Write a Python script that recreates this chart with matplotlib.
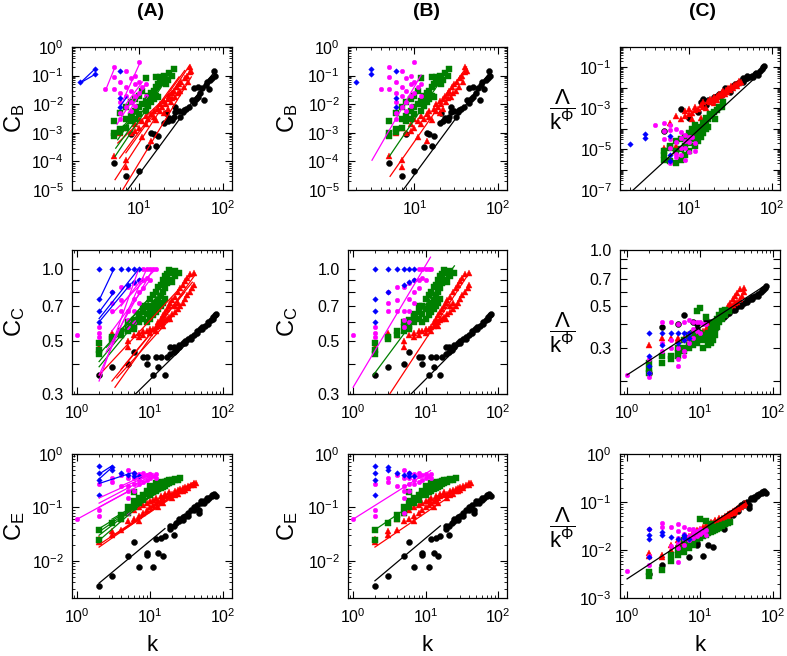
import numpy as np
import matplotlib
matplotlib.use("Agg")
import matplotlib.pyplot as plt
from matplotlib.ticker import LogLocator, FixedLocator, FuncFormatter, NullLocator

plt.rcParams['font.family'] = ['Liberation Sans', 'DejaVu Sans']
plt.rcParams['mathtext.fontset'] = 'custom'
plt.rcParams['mathtext.rm'] = 'Liberation Sans'
plt.rcParams['mathtext.it'] = 'Liberation Sans:italic'
plt.rcParams['mathtext.bf'] = 'Liberation Sans:bold'
plt.rcParams['mathtext.default'] = 'regular'

# ---------------- C_B : degree k, raw value, rescaled value ----------------
k_cb_black = [5, 7, 8, 10, 13, 16, 14, 15, 17, 20, 22, 23, 25, 26, 21, 27, 27, 30, 31, 33,
              34, 36, 39, 43, 45, 48, 50, 54, 57, 45, 50, 60, 62, 65, 68, 71, 75, 78, 80]
cb_black = [9e-5, 3.2e-5, 9e-4, 4.5e-5, 3.3e-4, 3.5e-4, 1e-3, 9e-4, 8e-4, 2.2e-3, 2.5e-3, 3.2e-3,
            2.8e-3, 3.7e-3, 5e-3, 5.5e-3, 8e-3, 6e-3, 3.7e-3, 5.5e-3, 6.3e-3, 7e-3, 8e-3, 1.4e-2,
            1.1e-2, 1.5e-2, 1.8e-2, 2.4e-2, 3.6e-2, 3.6e-2, 4e-2, 1.4e-2, 4.7e-2, 6e-2, 3.5e-2,
            7e-2, 8e-2, 0.14, 0.1]
cbs_black = [8e-5, 1e-5, 9e-4, 3.3e-4, 6.7e-4, 1.4e-3, 2.1e-3, 3e-3, 2.5e-3, 3.5e-3, 4e-3, 5e-3,
             4.5e-3, 6e-3, 3e-3, 8e-3, 1e-2, 9e-3, 6e-3, 1.1e-2, 1.3e-2, 1.5e-2, 1.8e-2, 2.2e-2,
             2e-2, 2.7e-2, 3e-2, 3.5e-2, 4e-2, 3e-2, 3.7e-2, 3.3e-2, 5e-2, 5.5e-2, 4.5e-2, 6.5e-2,
             8e-2, 0.11, 0.12]

k_cb_red = [5, 6, 7, 7, 7, 8, 9, 9, 10, 10, 11, 11, 12, 12, 13, 14, 14, 15, 15, 16, 17, 18, 18, 19,
            20, 20, 21, 22, 22, 23, 24, 25, 25, 26, 27, 28, 29, 30, 31, 32, 34, 35, 37, 38, 40, 40, 42]
cb_red = [1.5e-4, 1e-3, 1.1e-4, 6.5e-5, 1.5e-3, 1e-3, 1.2e-3, 2e-3, 1.5e-3, 3e-3, 7e-4, 2.5e-3,
          2e-3, 4e-3, 3e-3, 5e-4, 4.5e-3, 3.5e-3, 6e-3, 2.8e-3, 7e-3, 6e-3, 1e-2, 8e-3, 5e-3,
          1.3e-2, 1e-2, 1.5e-2, 7e-3, 2e-2, 1.2e-2, 2.5e-2, 1.6e-2, 3e-2, 1.8e-2, 4e-2, 2.5e-2,
          5e-2, 3e-2, 6e-2, 4e-2, 8e-2, 0.1, 6e-2, 0.2, 0.13, 0.15]
cbs_red = [1.1e-5, 1.8e-4, 1.5e-5, 8e-6, 4e-4, 3e-4, 4e-4, 7e-4, 5e-4, 9e-4, 3e-4, 6e-4, 8e-4,
           1.2e-3, 9e-4, 3.5e-4, 1.5e-3, 1.2e-3, 2e-3, 1e-3, 2.2e-3, 2e-3, 3e-3, 2.5e-3, 1.8e-3,
           3.5e-3, 3e-3, 4e-3, 2.5e-3, 5e-3, 3.5e-3, 6e-3, 4.5e-3, 7e-3, 5e-3, 8e-3, 6.5e-3,
           1e-2, 8e-3, 1.2e-2, 1e-2, 1.4e-2, 1.6e-2, 1.2e-2, 2.2e-2, 1.8e-2, 2e-2]

k_cb_green = [5, 5, 5, 6, 6, 6, 7, 7, 7, 8, 8, 8, 9, 9, 9, 10, 10, 10, 11, 11, 12, 12, 12, 13, 13,
              14, 14, 15, 15, 16, 16, 16, 17, 17, 18, 18, 19, 20, 21, 22, 23, 25, 26]
cb_green = [1e-3, 7.5e-4, 2.5e-3, 1.4e-3, 1.1e-3, 5e-3, 3e-3, 8e-3, 1.5e-3, 4e-3, 1.2e-2, 2.5e-3,
            6e-3, 1.5e-2, 3e-3, 8e-3, 2e-2, 4.5e-3, 1e-2, 3e-2, 1.3e-2, 6e-3, 8e-2, 2e-2, 9e-3,
            2.5e-2, 1.2e-2, 3e-2, 1.5e-2, 4e-2, 9e-2, 2e-2, 5e-2, 1.8e-2, 8e-2, 9e-2, 6e-2, 0.1,
            5e-2, 7e-2, 0.12, 0.1, 0.17]
cbs_green = [5.2e-6, 3e-6, 8e-6, 1.1e-5, 2.6e-6, 1.5e-5, 8e-6, 2.5e-5, 2e-6, 1e-5, 3e-5, 3e-6,
             1.5e-5, 4e-5, 5e-6, 2e-5, 6e-5, 8e-6, 3e-5, 1e-4, 5e-5, 1.5e-5, 1.5e-4, 8e-5, 2.5e-5,
             1.2e-4, 4e-5, 2e-4, 6e-5, 3.2e-4, 2.5e-4, 1e-4, 3e-4, 1.2e-4, 4.6e-4, 5e-4, 4e-4,
             6.7e-4, 3e-4, 8e-4, 1.2e-3, 1.1e-3, 2e-3]

k_cb_mag = [4, 5, 5, 5, 6, 6, 6, 6, 6, 7, 7, 7, 7, 8, 8, 8, 8, 9, 9, 9, 9, 10, 10, 10, 11, 12, 12]
cb_mag = [0.035, 0.2, 0.09, 0.035, 0.06, 0.025, 0.012, 0.005, 0.003, 0.14, 0.04, 0.02, 0.008,
          0.08, 0.03, 0.012, 0.006, 0.1, 0.05, 0.02, 0.009, 0.3, 0.06, 0.025, 0.04, 0.05, 0.02]
cbs_mag = [1.5e-4, 1.8e-4, 8e-5, 3e-5, 1.6e-4, 9e-5, 3e-5, 1.2e-5, 2e-6, 1e-4, 2.3e-5, 6e-6, 4e-6,
           7e-5, 3.4e-5, 1.1e-5, 5e-6, 5e-5, 2.5e-5, 1.2e-5, 3e-6, 4e-5, 2.3e-5, 7.4e-6, 4e-5,
           2e-5, 8e-6]

k_cb_blue = [2, 3, 3, 6, 6, 6]
cb_blue = [0.06, 0.17, 0.115, 0.14, 0.016, 0.008]
cbs_blue = [1.7e-5, 5.3e-5, 3.6e-5, 4.4e-5, 5e-6, 2.6e-6]

# ---------------- C_C ----------------
k_cc_black = [2, 3, 5, 6, 8, 9, 9, 11, 12, 13, 14, 16, 17, 19, 19, 21, 21, 23, 25, 25,
              28, 30, 30, 33, 36, 36, 40, 44, 44, 48, 52, 52, 57, 62, 62, 68, 72, 72, 78, 80]
cc_black = [0.36, 0.39, 0.4, 0.45, 0.43, 0.43, 0.4, 0.36, 0.43, 0.39, 0.43, 0.36, 0.43, 0.47, 0.44,
            0.47, 0.45, 0.46, 0.48, 0.47, 0.49, 0.5, 0.49, 0.51, 0.52, 0.51, 0.53, 0.54, 0.55, 0.56,
            0.57, 0.56, 0.58, 0.6, 0.59, 0.61, 0.62, 0.63, 0.64, 0.65]
ccs_black = [0.22, 0.39, 0.4, 0.45, 0.41, 0.4, 0.38, 0.36, 0.42, 0.4, 0.41, 0.38, 0.42, 0.44, 0.43,
             0.45, 0.44, 0.45, 0.47, 0.46, 0.48, 0.49, 0.48, 0.5, 0.51, 0.5, 0.52, 0.53, 0.54, 0.55,
             0.56, 0.55, 0.57, 0.58, 0.57, 0.6, 0.61, 0.62, 0.63, 0.64]

k_cc_red = [2, 3, 4, 5, 5, 6, 7, 7, 8, 8, 9, 10, 10, 11, 12, 12, 13, 13, 14, 14, 15, 15, 15, 16, 16,
            17, 17, 18, 18, 19, 19, 20, 20, 22, 22, 22, 24, 24, 24, 26, 26, 28, 28, 30, 30, 32, 32,
            35, 35, 38, 40, 40]
cc_red = [0.47, 0.54, 0.53, 0.47, 0.5, 0.53, 0.54, 0.52, 0.55, 0.53, 0.55, 0.56, 0.54, 0.56, 0.57,
          0.55, 0.58, 0.6, 0.59, 0.62, 0.6, 0.64, 0.58, 0.61, 0.66, 0.62, 0.68, 0.63, 0.7, 0.62,
          0.72, 0.65, 0.74, 0.66, 0.76, 0.7, 0.68, 0.8, 0.72, 0.7, 0.83, 0.72, 0.86, 0.75, 0.89,
          0.78, 0.92, 0.8, 0.95, 0.83, 0.96, 0.86]
ccs_red = [0.31, 0.34, 0.34, 0.33, 0.34, 0.34, 0.34, 0.35, 0.35, 0.34, 0.35, 0.36, 0.35, 0.37, 0.38,
           0.37, 0.39, 0.38, 0.4, 0.39, 0.41, 0.4, 0.39, 0.42, 0.41, 0.42, 0.43, 0.43, 0.44, 0.44,
           0.46, 0.45, 0.47, 0.46, 0.48, 0.47, 0.48, 0.5, 0.49, 0.5, 0.52, 0.51, 0.55, 0.52, 0.57,
           0.53, 0.59, 0.55, 0.62, 0.57, 0.63, 0.6]

k_cc_green = [2, 2, 2, 3, 3, 4, 4, 5, 5, 5, 6, 6, 6, 7, 7, 7, 8, 8, 8, 9, 9, 9, 10, 10, 10, 11, 11,
              11, 12, 12, 12, 13, 13, 13, 14, 14, 14, 15, 15, 15, 16, 16, 16, 17, 17, 18, 18, 20,
              20, 22, 22, 25]
cc_green = [0.49, 0.46, 0.44, 0.52, 0.51, 0.55, 0.53, 0.57, 0.55, 0.6, 0.61, 0.58, 0.56, 0.63, 0.6,
            0.65, 0.66, 0.62, 0.7, 0.7, 0.65, 0.6, 0.75, 0.68, 0.62, 0.78, 0.7, 0.64, 0.8, 0.72,
            0.66, 0.84, 0.74, 0.68, 0.86, 0.77, 0.7, 0.9, 0.8, 0.72, 0.93, 0.83, 0.75, 0.95, 0.87,
            0.99, 0.9, 0.96, 0.88, 0.98, 0.93, 0.96]
ccs_green = [0.25, 0.23, 0.22, 0.25, 0.27, 0.27, 0.26, 0.28, 0.27, 0.3, 0.3, 0.29, 0.33, 0.3, 0.31,
             0.35, 0.31, 0.33, 0.36, 0.32, 0.34, 0.47, 0.33, 0.36, 0.49, 0.34, 0.35, 0.3, 0.35,
             0.33, 0.44, 0.36, 0.34, 0.31, 0.38, 0.35, 0.32, 0.4, 0.36, 0.33, 0.41, 0.38, 0.35,
             0.43, 0.39, 0.45, 0.41, 0.47, 0.43, 0.48, 0.45, 0.47]

k_cc_mag = [1, 2, 2, 2, 3, 3, 3, 4, 4, 4, 5, 5, 5, 5, 6, 6, 6, 6, 7, 7, 7, 8, 8, 8, 9, 9, 10, 10, 11, 12]
cc_mag = [0.53, 0.57, 0.54, 0.52, 0.8, 0.72, 0.67, 0.84, 0.74, 0.67, 0.84, 0.67, 0.61, 0.57, 0.87,
          0.75, 0.67, 0.6, 0.9, 0.8, 0.72, 1.0, 0.9, 0.83, 1.0, 0.92, 1.0, 0.9, 1.0, 1.0]
ccs_mag = [0.215, 0.26, 0.22, 0.21, 0.41, 0.32, 0.29, 0.41, 0.33, 0.3, 0.4, 0.3, 0.26, 0.24, 0.41,
           0.33, 0.29, 0.27, 0.42, 0.36, 0.32, 0.41, 0.38, 0.34, 0.41, 0.37, 0.41, 0.36, 0.4, 0.4]

k_cc_blue = [2, 2, 2, 2, 3, 3, 4, 5, 5, 6, 6, 7, 7]
cc_blue = [1.0, 0.75, 0.67, 0.6, 1.0, 0.8, 1.0, 1.0, 0.86, 1.0, 0.88, 1.0, 0.9]
ccs_blue = [0.36, 0.27, 0.24, 0.22, 0.36, 0.31, 0.36, 0.36, 0.32, 0.36, 0.33, 0.36, 0.34]

# ---------------- C_E ----------------
k_ce_black = [2, 3, 5, 6, 7, 9, 9, 11, 12, 13, 14, 15, 16, 19, 19, 21, 21, 23, 25, 25, 28, 28, 30,
              33, 33, 36, 40, 40, 44, 47, 47, 50, 50, 55, 55, 60, 60, 65, 70, 70, 75, 75, 80]
ce_black = [0.0033, 0.0051, 0.0124, 0.022, 0.0075, 0.014, 0.013, 0.0075, 0.025, 0.014, 0.027,
            0.012, 0.029, 0.039, 0.045, 0.03, 0.045, 0.05, 0.06, 0.055, 0.065, 0.058, 0.07, 0.08,
            0.07, 0.09, 0.1, 0.09, 0.11, 0.09, 0.08, 0.12, 0.13, 0.13, 0.12, 0.14, 0.15, 0.15,
            0.17, 0.16, 0.18, 0.17, 0.16]
ces_black = [0.0032, 0.0048, 0.012, 0.018, 0.0072, 0.014, 0.013, 0.0074, 0.022, 0.0126, 0.025,
             0.0117, 0.027, 0.036, 0.04, 0.028, 0.042, 0.046, 0.055, 0.05, 0.06, 0.053, 0.065,
             0.075, 0.065, 0.085, 0.095, 0.085, 0.1, 0.085, 0.075, 0.115, 0.12, 0.125, 0.115,
             0.135, 0.14, 0.145, 0.16, 0.155, 0.17, 0.165, 0.155]

k_ce_red = [2, 2, 3, 3, 4, 4, 5, 5, 6, 6, 7, 7, 7, 8, 8, 9, 9, 10, 10, 11, 11, 12, 12, 13, 13, 14,
            14, 15, 15, 16, 16, 18, 18, 20, 20, 22, 22, 24, 24, 26, 26, 28, 28, 30, 30, 33, 33, 36,
            40, 40, 42]
ce_red = [0.025, 0.022, 0.036, 0.03, 0.038, 0.06, 0.055, 0.08, 0.06, 0.09, 0.07, 0.1, 0.055, 0.08,
          0.11, 0.09, 0.12, 0.1, 0.13, 0.11, 0.14, 0.12, 0.15, 0.13, 0.1, 0.14, 0.16, 0.15, 0.12,
          0.16, 0.18, 0.17, 0.19, 0.18, 0.15, 0.2, 0.17, 0.21, 0.18, 0.22, 0.2, 0.23, 0.2, 0.24,
          0.21, 0.25, 0.23, 0.26, 0.28, 0.26, 0.29]
ces_red = [0.0085, 0.0075, 0.0078, 0.007, 0.01, 0.013, 0.013, 0.016, 0.015, 0.018, 0.017, 0.02,
           0.014, 0.02, 0.024, 0.022, 0.026, 0.025, 0.028, 0.027, 0.03, 0.03, 0.033, 0.032, 0.028,
           0.035, 0.038, 0.037, 0.033, 0.04, 0.043, 0.043, 0.047, 0.047, 0.042, 0.052, 0.047,
           0.056, 0.05, 0.06, 0.055, 0.064, 0.058, 0.068, 0.062, 0.075, 0.07, 0.08, 0.09, 0.085,
           0.095]

k_ce_green = [2, 2, 3, 4, 4, 5, 5, 6, 6, 6, 7, 7, 8, 8, 9, 9, 10, 10, 10, 11, 11, 12, 12, 12, 13,
              13, 14, 14, 14, 15, 15, 16, 16, 17, 17, 18, 18, 20, 20, 22, 22, 24, 26]
ce_green = [0.037, 0.024, 0.05, 0.073, 0.06, 0.1, 0.08, 0.13, 0.19, 0.1, 0.15, 0.12, 0.17, 0.14,
            0.18, 0.2, 0.2, 0.17, 0.25, 0.22, 0.19, 0.24, 0.2, 0.28, 0.25, 0.22, 0.27, 0.23, 0.3,
            0.28, 0.24, 0.3, 0.25, 0.31, 0.27, 0.32, 0.28, 0.3, 0.33, 0.32, 0.34, 0.33, 0.35]
ces_green = [0.0035, 0.0029, 0.0039, 0.008, 0.006, 0.01, 0.008, 0.011, 0.016, 0.009, 0.013, 0.011,
             0.016, 0.013, 0.017, 0.02, 0.02, 0.018, 0.045, 0.022, 0.02, 0.024, 0.021, 0.04,
             0.025, 0.023, 0.026, 0.024, 0.035, 0.027, 0.025, 0.029, 0.026, 0.03, 0.028, 0.031,
             0.029, 0.032, 0.033, 0.034, 0.035, 0.036, 0.038]

k_ce_mag = [1, 2, 2, 2, 3, 3, 4, 4, 5, 5, 5, 5, 5, 5, 6, 6, 6, 6, 7, 7, 7, 8, 8, 8, 9, 9, 10, 10,
            11, 12, 12]
ce_mag = [0.06, 0.27, 0.09, 0.07, 0.35, 0.3, 0.4, 0.25, 0.5, 0.35, 0.25, 0.2, 0.15, 0.08, 0.45,
          0.35, 0.27, 0.2, 0.42, 0.33, 0.27, 0.45, 0.38, 0.3, 0.4, 0.32, 0.43, 0.35, 0.38, 0.42, 0.35]
ces_mag = [0.0037, 0.028, 0.0075, 0.0048, 0.037, 0.03, 0.03, 0.012, 0.035, 0.025, 0.018, 0.014,
           0.011, 0.0055, 0.03, 0.022, 0.017, 0.013, 0.027, 0.02, 0.016, 0.028, 0.023, 0.018,
           0.025, 0.02, 0.027, 0.022, 0.024, 0.026, 0.021]

k_ce_blue = [2, 2, 2, 2, 3, 3, 4, 5, 6, 6, 7]
ce_blue = [0.6, 0.45, 0.33, 0.17, 0.57, 0.5, 0.45, 0.4, 0.44, 0.38, 0.38]
ces_blue = [0.027, 0.021, 0.017, 0.0072, 0.024, 0.021, 0.019, 0.017, 0.021, 0.018, 0.017]

# ---------------- fitted lines: (colour, k_start, k_end, y_start, y_end) ----------------
fitA_cb = [('black', 7.3, 78, 1e-5, 0.13),
           ('red', 5.2, 40, 2.3e-5, 0.23), ('red', 6.4, 42, 1e-5, 0.09), ('red', 5.9, 30, 1.3e-4, 0.09),
           ('red', 5.6, 28, 4.4e-4, 0.04), ('red', 7, 35, 2e-4, 0.15),
           ('green', 5.3, 26, 2.9e-4, 0.18), ('green', 5.2, 21, 1.5e-4, 0.07),
           ('green', 5.9, 16, 9.8e-4, 0.036), ('green', 6.5, 19.5, 1.7e-3, 0.054),
           ('green', 5.6, 12.3, 5.7e-4, 0.018),
           ('mag', 4.1, 5.2, 0.036, 0.2), ('mag', 6.5, 10.4, 0.014, 0.3), ('mag', 7, 11, 0.01, 0.06),
           ('mag', 5.5, 9, 2e-3, 0.02), ('mag', 7.5, 12, 0.005, 0.05),
           ('blue', 2, 3, 0.055, 0.17), ('blue', 2, 3, 0.055, 0.11), ('blue', 5.8, 7.2, 0.0075, 0.018)]
fitA_cc = [('black', 6.3, 75, 0.3, 0.63),
           ('red', 2, 35, 0.36, 0.92), ('red', 3.3, 42, 0.32, 0.95), ('red', 3, 30, 0.34, 0.8),
           ('red', 4, 38, 0.38, 0.88), ('red', 3.5, 25, 0.35, 0.68),
           ('green', 2, 19, 0.44, 0.95), ('green', 2, 17, 0.41, 0.9), ('green', 2, 15, 0.39, 0.82),
           ('green', 2.5, 12, 0.47, 0.75), ('green', 3, 22, 0.5, 1.0),
           ('mag', 2, 7, 0.34, 1.0), ('mag', 2, 9, 0.36, 1.0), ('mag', 2.5, 11, 0.45, 1.0),
           ('mag', 3, 10, 0.55, 0.9), ('mag', 3, 12, 0.65, 1.0), ('mag', 4, 8, 0.7, 0.92),
           ('blue', 2, 3.2, 0.74, 1.0), ('blue', 2, 3.2, 0.66, 0.8), ('blue', 2, 5.5, 0.6, 0.87),
           ('blue', 2, 7, 0.62, 1.0)]
fitA_ce = [('black', 2, 16, 0.0038, 0.04),
           ('red', 2, 25, 0.018, 0.2), ('red', 2, 35, 0.02, 0.27), ('red', 3, 40, 0.028, 0.3),
           ('red', 4, 30, 0.035, 0.22),
           ('green', 2, 12, 0.024, 0.2), ('green', 2, 15, 0.03, 0.25), ('green', 2, 20, 0.035, 0.3),
           ('green', 2, 25, 0.04, 0.33), ('green', 3, 20, 0.06, 0.28),
           ('mag', 1, 5, 0.06, 0.2), ('mag', 2, 10, 0.1, 0.33), ('mag', 2, 10, 0.12, 0.38),
           ('mag', 2, 11, 0.15, 0.43), ('mag', 4, 10, 0.25, 0.45),
           ('blue', 2, 3, 0.34, 0.56), ('blue', 2, 3, 0.42, 0.6), ('blue', 2, 5.5, 0.28, 0.44)]

fitB_cb = [('mag', 3.1, 12, 1.1e-4, 0.105), ('green', 5, 26, 1.5e-4, 0.18),
           ('red', 5.1, 42, 3e-5, 0.2), ('black', 7.3, 78, 1e-5, 0.12)]
fitB_cc = [('mag', 1, 11.7, 0.32, 1.12), ('green', 1.9, 25, 0.36, 1.03),
           ('red', 3.2, 38, 0.3, 0.94), ('black', 6.3, 72, 0.3, 0.63)]
fitB_ce = [('mag', 1, 11.7, 0.06, 0.49), ('green', 2, 25, 0.038, 0.39),
           ('red', 2, 38, 0.018, 0.27), ('black', 2, 16, 0.0042, 0.045)]

fitC_cb = ('black', 2.16, 60, 1e-7, 0.026)
fitC_cc = ('black', 1, 80, 0.215, 0.65)
fitC_ce = ('black', 1, 41, 0.0025, 0.1)

# ---------------- styling ----------------
colours = {'black': '#000000', 'red': '#ff0000', 'green': '#008000', 'mag': '#ff00ff', 'blue': '#0000ff'}
marks = {'black': ('o', 4.3), 'red': ('^', 4.8), 'green': ('s', 3.8), 'mag': ('o', 3.3), 'blue': ('D', 2.8)}
order = ['black', 'red', 'green', 'mag', 'blue']

pts_cb = {'black': (k_cb_black, cb_black, cbs_black), 'red': (k_cb_red, cb_red, cbs_red),
          'green': (k_cb_green, cb_green, cbs_green), 'mag': (k_cb_mag, cb_mag, cbs_mag),
          'blue': (k_cb_blue, cb_blue, cbs_blue)}
pts_cc = {'black': (k_cc_black, cc_black, ccs_black), 'red': (k_cc_red, cc_red, ccs_red),
          'green': (k_cc_green, cc_green, ccs_green), 'mag': (k_cc_mag, cc_mag, ccs_mag),
          'blue': (k_cc_blue, cc_blue, ccs_blue)}
pts_ce = {'black': (k_ce_black, ce_black, ces_black), 'red': (k_ce_red, ce_red, ces_red),
          'green': (k_ce_green, ce_green, ces_green), 'mag': (k_ce_mag, ce_mag, ces_mag),
          'blue': (k_ce_blue, ce_blue, ces_blue)}

rows = [
    dict(pts=pts_cb, fa=fitA_cb, fb=fitB_cb, fc=fitC_cb, lab=r'$C_{B}$',
         xl=(1.6, 128), xlc=(1.5, 125), yl=(1e-5, 1), ylc=(1e-7, 1), kind='log', kindc='odd', fy=0.56),
    dict(pts=pts_cc, fa=fitA_cc, fb=fitB_cc, fc=fitC_cc, lab=r'$C_{C}$',
         xl=(0.85, 133), xlc=(0.8, 125), yl=(0.3, 1.2), ylc=(0.17, 1.0), kind='lin', kindc='linc', fy=0.43),
    dict(pts=pts_ce, fa=fitA_ce, fb=fitB_ce, fc=fitC_ce, lab=r'$C_{E}$',
         xl=(0.85, 133), xlc=(0.8, 125), yl=(0.002, 1), ylc=(1e-3, 1), kind='log', kindc='log', fy=0.49),
]


def dec_label(v, pos):
    return r'$\mathdefault{10^{%d}}$' % int(round(np.log10(v)))


def odd_label(v, pos):
    e = int(round(np.log10(v)))
    return r'$\mathdefault{10^{%d}}$' % e if e % 2 else ''


def lin_label(v, pos):
    return '%.1f' % v if round(v, 2) in (0.3, 0.5, 0.7, 1.0) else ''


def setup(ax, xl, yl, kind):
    ax.set_xscale('log')
    ax.set_yscale('log')
    ax.set_xlim(xl)
    ax.set_ylim(yl)
    ax.xaxis.set_major_locator(LogLocator(base=10, numticks=30))
    ax.xaxis.set_minor_locator(LogLocator(base=10, subs=np.arange(2, 10) * 1.0, numticks=30))
    ax.xaxis.set_major_formatter(FuncFormatter(dec_label))
    if kind in ('log', 'odd'):
        ax.yaxis.set_major_locator(LogLocator(base=10, numticks=30))
        ax.yaxis.set_minor_locator(LogLocator(base=10, subs=np.arange(2, 10) * 1.0, numticks=30))
        ax.yaxis.set_major_formatter(FuncFormatter(odd_label if kind == 'odd' else dec_label))
    else:
        vals = [0.3, 0.4, 0.5, 0.6, 0.7, 0.8, 0.9, 1.0]
        if kind == 'linc':
            vals = [0.2] + vals
        ax.yaxis.set_major_locator(FixedLocator(vals))
        ax.yaxis.set_minor_locator(NullLocator())
        ax.yaxis.set_major_formatter(FuncFormatter(lin_label))
    ax.yaxis.set_minor_formatter(FuncFormatter(lambda v, p: ''))
    ax.xaxis.set_minor_formatter(FuncFormatter(lambda v, p: ''))
    ax.tick_params(which='both', direction='in', top=True, right=True, labelsize=11.5)
    ax.tick_params(which='major', length=5, width=0.8)
    ax.tick_params(which='minor', length=2.5, width=0.6)
    ax.tick_params(axis='x', pad=7)
    ax.tick_params(axis='y', pad=6)
    for s in ax.spines.values():
        s.set_linewidth(0.9)


def draw_pts(ax, pts, scaled=False):
    for name in order:
        k, raw, sc = pts[name]
        m, ms = marks[name]
        ax.plot(k, sc if scaled else raw, ls='none', marker=m, ms=ms, color=colours[name],
                mec=colours[name], mew=0.3, zorder=2)


def draw_fits(ax, fits):
    for name, k0, k1, y0, y1 in fits:
        ax.plot([k0, k1], [y0, y1], color=colours[name], lw=0.9, zorder=3)


fig = plt.figure(figsize=(7.87, 6.56), dpi=100)
W, H = 787.0, 656.0
lefts = [72, 348, 620]
widths = [160, 159, 160]
tops = [47, 250, 454]
heights = [143, 144, 144]

for r, row in enumerate(rows):
    for c in range(3):
        ax = fig.add_axes([lefts[c] / W, 1 - (tops[r] + heights[r]) / H, widths[c] / W, heights[r] / H])
        if c < 2:
            setup(ax, row['xl'], row['yl'], row['kind'])
            draw_pts(ax, row['pts'])
            draw_fits(ax, row['fa'] if c == 0 else row['fb'])
            ax.set_ylabel(row['lab'], fontsize=17)
            ax.yaxis.set_label_coords(-0.28 if c == 0 else -0.30, 0.5)
        else:
            setup(ax, row['xlc'], row['ylc'], row['kindc'])
            draw_pts(ax, row['pts'], scaled=True)
            draw_fits(ax, [row['fc']])
            ax.text(-0.36, row['fy'], r'$\dfrac{\Lambda}{k^{\Phi}}$', transform=ax.transAxes,
                    ha='center', va='center', fontsize=16)
        if r == 2:
            ax.set_xlabel('k', fontsize=16)
            ax.xaxis.set_label_coords(0.5, -0.26)

for x, t in [(151, '(A)'), (427, '(B)'), (703, '(C)')]:
    fig.text(x / W, 1 - 12 / H, t, ha='center', va='center', fontsize=14, fontweight='bold')

fig.savefig('out.png', dpi=100)
